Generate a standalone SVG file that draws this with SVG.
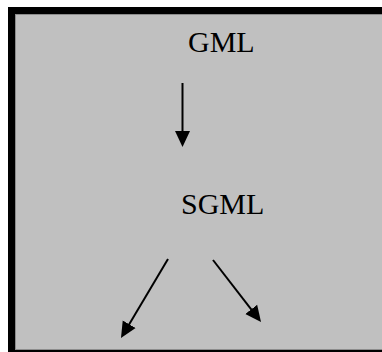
<svg xmlns="http://www.w3.org/2000/svg" width="382" height="352" viewBox="0 0 382 352">
  <defs>
    <marker id="arrow" markerUnits="userSpaceOnUse" markerWidth="16" markerHeight="16" refX="6" refY="8" orient="auto">
      <path d="M0,0.5 L16,8 L0,15.5 Z" fill="#000"/>
    </marker>
  </defs>
  <style>
    .label { font-family: "Liberation Serif", "Times New Roman", serif; font-size: 30px; fill: #000; }
    .conn { stroke: #000; stroke-width: 2; fill: none; marker-end: url(#arrow); }
  </style>
  <rect width="382" height="352" fill="#fff"/>
  <g id="frame">
    <rect x="11.5" y="10.5" width="420" height="343" fill="#c0c0c0" stroke="#000" stroke-width="7"/>
    <rect x="15.5" y="14.5" width="420" height="335" fill="none" stroke="#8c8c8c" stroke-width="1"/>
  </g>
  <g id="gml">
    <text class="label" x="188" y="52">GML</text>
  </g>
  <g id="sgml">
    <text class="label" x="181" y="214">SGML</text>
  </g>
  <g id="connectors">
    <line class="conn" x1="182.5" y1="83" x2="182.5" y2="137"/>
    <line class="conn" x1="168" y1="259" x2="126.1" y2="329.4"/>
    <line class="conn" x1="213" y1="260" x2="254.9" y2="314.1"/>
  </g>
</svg>
